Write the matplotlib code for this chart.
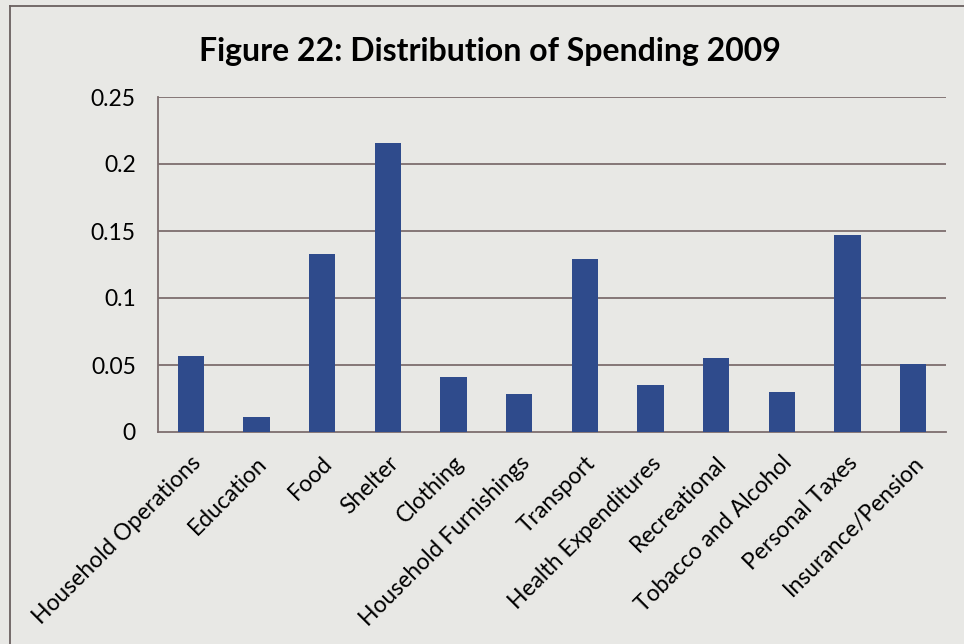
import numpy as np
import matplotlib.pyplot as plt
import matplotlib.transforms as mtransforms
from matplotlib.lines import Line2D

categories = ["Household Operations", "Education", "Food", "Shelter", "Clothing",
              "Household Furnishings", "Transport", "Health Expenditures",
              "Recreational", "Tobacco and Alcohol", "Personal Taxes",
              "Insurance/Pension"]
shares = [0.057, 0.011, 0.133, 0.216, 0.041, 0.028, 0.129, 0.035, 0.055,
          0.030, 0.147, 0.051]
yticks = [0, 0.05, 0.1, 0.15, 0.2, 0.25]
ytick_labels = ["0", "0.05", "0.1", "0.15", "0.2", "0.25"]

paper = "#e8e8e5"
grid_col = "#7d6e6e"
bar_col = "#2f4b8c"

plt.rcParams['font.family'] = ['Lato', 'DejaVu Sans']

fig = plt.figure(figsize=(9.64, 6.44), dpi=100, facecolor=paper)
ax = fig.add_axes([158 / 964, 212 / 644, 788 / 964, 335 / 644])
ax.set_facecolor(paper)

x = np.arange(len(categories))
ax.bar(x, shares, width=0.4, color=bar_col, zorder=3)

ax.set_xlim(-0.5, len(categories) - 0.5)
ax.set_ylim(0, 0.25)
ax.set_yticks(yticks)
ax.set_yticklabels(ytick_labels, fontsize=16.5)
for y in yticks[1:]:
    ax.axhline(y, color=grid_col, lw=1.3, zorder=1)

ax.set_xticks(x)
ax.set_xticklabels(categories, fontsize=16.5, rotation=45, ha='right',
                   va='center', rotation_mode='anchor')
ax.tick_params(axis='x', length=0, pad=20)
ax.tick_params(axis='y', length=0, pad=16)

# nudge the slanted category names a little to the right
shift = mtransforms.ScaledTranslation(7 / 100, 0, fig.dpi_scale_trans)
for lbl in ax.get_xticklabels():
    lbl.set_transform(lbl.get_transform() + shift)

for side in ['top', 'right']:
    ax.spines[side].set_visible(False)
for side in ['left', 'bottom']:
    ax.spines[side].set_color(grid_col)
    ax.spines[side].set_linewidth(1.3)

fig.text(0.508, 1 - 52 / 644, "Figure 22: Distribution of Spending 2009",
         fontsize=23, fontweight='bold', ha='center', va='center')

# outer chart frame (top and left edges)
fig.add_artist(Line2D([10 / 964, 1.0], [1 - 6 / 644, 1 - 6 / 644],
                      transform=fig.transFigure, color="#6a6060", lw=1.3))
fig.add_artist(Line2D([10 / 964, 10 / 964], [0, 1 - 6 / 644],
                      transform=fig.transFigure, color="#6a6060", lw=1.3))

fig.savefig("out.png", dpi=100, facecolor=paper)
